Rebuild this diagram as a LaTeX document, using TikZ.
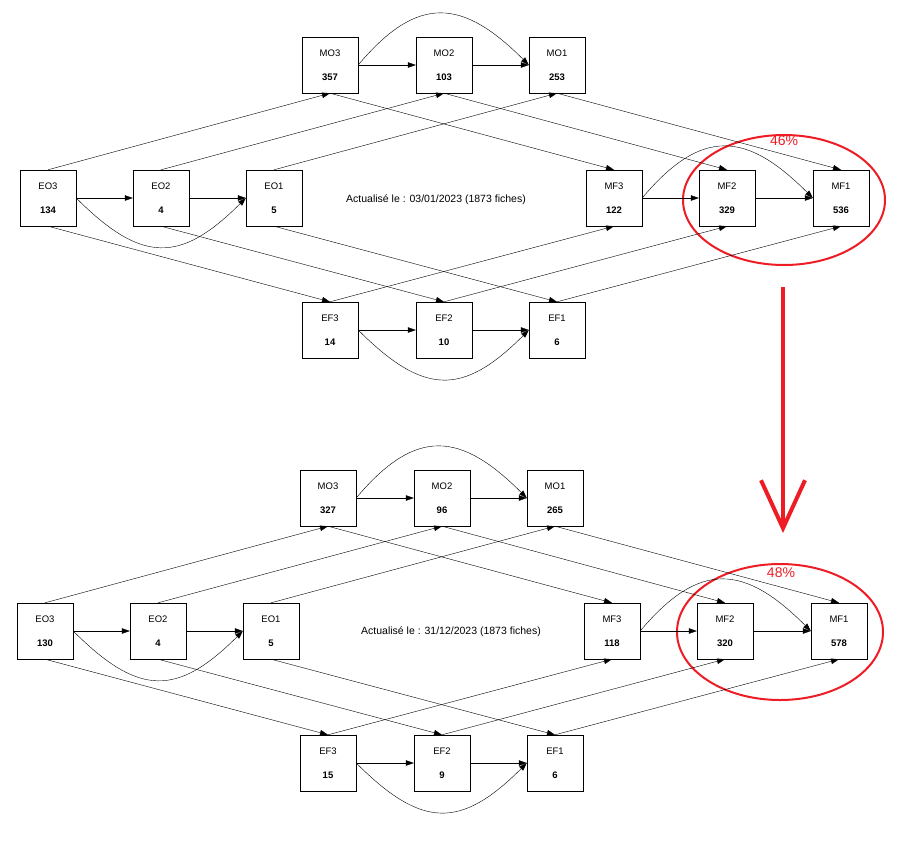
\documentclass[tikz,border=0pt]{standalone}
\usepackage{fontspec}
\setmainfont{Liberation Sans}
\usepackage{xcolor}
\usepackage{tikz}
\usetikzlibrary{arrows.meta, positioning, shapes.geometric}
\definecolor{markred}{HTML}{EE1C24}

% one flow panel: nodes are placed by the caller, edges here
\newcommand{\flowedges}[1]{%
  \draw[->] (#1EO3.east) -- (#1EO2.west);
  \draw[->] (#1EO2.east) -- (#1EO1.west);
  \draw[->] (#1EO3.east) to[out=-45,in=-135,looseness=1.4] (#1EO1.west);
  \draw[->] (#1MO3.east) -- (#1MO2.west);
  \draw[->] (#1MO2.east) -- (#1MO1.west);
  \draw[->] (#1MO3.east) to[out=50,in=135,looseness=1.4] (#1MO1.west);
  \draw[->] (#1EF3.east) -- (#1EF2.west);
  \draw[->] (#1EF2.east) -- (#1EF1.west);
  \draw[->] (#1EF3.east) to[out=-45,in=-135,looseness=1.4] (#1EF1.west);
  \draw[->] (#1MF3.east) -- (#1MF2.west);
  \draw[->] (#1MF2.east) -- (#1MF1.west);
  \draw[->] (#1MF3.east) to[out=50,in=135,looseness=1.4] (#1MF1.west);
  \foreach \n in {3,2,1} {
    \draw[->] (#1EO\n.north) -- (#1MO\n.south);
    \draw[->] (#1EO\n.south) -- (#1EF\n.north);
    \draw[->] (#1MO\n.south) -- (#1MF\n.north);
    \draw[->] (#1EF\n.north) -- (#1MF\n.south);
  }%
}

\begin{document}
\begin{tikzpicture}[x=1pt, y=-1pt,
    box/.style={draw, fill=white, minimum width=56pt, minimum height=56pt,
      align=center, inner sep=0pt, font=\fontsize{9.5}{10}\selectfont},
    stamp/.style={font=\fontsize{10.5}{12}\selectfont},
    ring/.style={draw=markred, line width=2pt, ellipse, inner sep=0pt},
    pct/.style={text=markred, font=\fontsize{14}{16}\selectfont},
    >={Triangle[length=8pt,width=5.5pt]}]
  \useasboundingbox (0,0) rectangle (918,863);

  % panel up
  \node[stamp] (stampA) at (436,200) {Actualisé le : 03/01/2023 (1873 fiches)};
  \node[ring, minimum width=202pt, minimum height=130pt] (ringA) at (784,200) {};
  \node[pct] (pctA) at (784,141) {46\%};
  \node[box] (aEO3) at (48,198) {EO3\\[14pt]\textbf{134}};
  \node[box] (aEO2) at (161,198) {EO2\\[14pt]\textbf{4}};
  \node[box] (aEO1) at (274,198) {EO1\\[14pt]\textbf{5}};
  \node[box] (aMO3) at (330,65) {MO3\\[14pt]\textbf{357}};
  \node[box] (aMO2) at (444,65) {MO2\\[14pt]\textbf{103}};
  \node[box] (aMO1) at (557,65) {MO1\\[14pt]\textbf{253}};
  \node[box] (aMF3) at (614,198) {MF3\\[14pt]\textbf{122}};
  \node[box] (aMF2) at (727,198) {MF2\\[14pt]\textbf{329}};
  \node[box] (aMF1) at (841,198) {MF1\\[14pt]\textbf{536}};
  \node[box] (aEF3) at (330,330) {EF3\\[14pt]\textbf{14}};
  \node[box] (aEF2) at (444,330) {EF2\\[14pt]\textbf{10}};
  \node[box] (aEF1) at (557,330) {EF1\\[14pt]\textbf{6}};
  \flowedges{a}

  % panel down
  \node[stamp] (stampB) at (451,632) {Actualisé le : 31/12/2023 (1873 fiches)};
  \node[ring, minimum width=206pt, minimum height=136pt] (ringB) at (780,632) {};
  \node[pct] (pctB) at (781,573) {48\%};
  \node[box] (bEO3) at (45,631) {EO3\\[14pt]\textbf{130}};
  \node[box] (bEO2) at (158,631) {EO2\\[14pt]\textbf{4}};
  \node[box] (bEO1) at (271,631) {EO1\\[14pt]\textbf{5}};
  \node[box] (bMO3) at (328,498) {MO3\\[14pt]\textbf{327}};
  \node[box] (bMO2) at (442,498) {MO2\\[14pt]\textbf{96}};
  \node[box] (bMO1) at (555,498) {MO1\\[14pt]\textbf{265}};
  \node[box] (bMF3) at (612,631) {MF3\\[14pt]\textbf{118}};
  \node[box] (bMF2) at (725,631) {MF2\\[14pt]\textbf{320}};
  \node[box] (bMF1) at (839,631) {MF1\\[14pt]\textbf{578}};
  \node[box] (bEF3) at (328,763) {EF3\\[14pt]\textbf{15}};
  \node[box] (bEF2) at (442,763) {EF2\\[14pt]\textbf{9}};
  \node[box] (bEF1) at (555,763) {EF1\\[14pt]\textbf{6}};
  \flowedges{b}

  % trend arrow
  \coordinate (trendA) at (783,287);
  \coordinate (trendB) at (783,533);
  \draw[markred, line width=4pt, -{Straight Barb[length=48pt,width=44pt,line width=4pt]}]
    (trendA) -- (trendB);
\end{tikzpicture}
\end{document}
